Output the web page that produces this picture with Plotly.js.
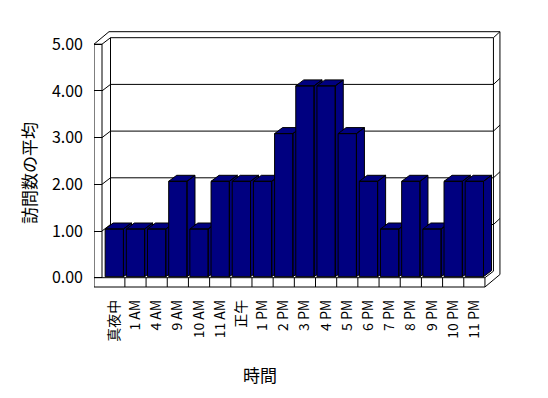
<!DOCTYPE html>
<html>
<head>
<meta charset="utf-8">
<script src="https://cdn.plot.ly/plotly-3.0.1.min.js"></script>
<style>html,body{margin:0;padding:0;background:#fff;}#chart{width:548px;height:398px;}</style>
</head>
<body>
<div id="chart"></div>
<script>
// ---- data ----
const categories = ["真夜中","1 AM","4 AM","9 AM","10 AM","11 AM","正午","1 PM","2 PM","3 PM","4 PM","5 PM","6 PM","7 PM","8 PM","9 PM","10 PM","11 PM"];
const values = [1,1,1,2,1,2,2,2,3,4,4,3,2,1,2,1,2,2];
const yTicks = [0,1,2,3,4,5];
const xTitle = "時間";
const yTitle = "訪問数の平均";

// ---- geometry (pixels -> axis units) ----
const CW = 21.18;        // px per category
const KF = 46.7;         // px per value unit, front plane
const KB = 47.7;         // px per value unit, bar plane
const n = categories.length;
const xr = [(94 - 114.3) / CW, (504 - 114.3) / CW];
const yr = [(277.7 - 292) / KF, (277.7 - 28) / KF];
const y2r = [(276.7 - 292) / KB, (276.7 - 28) / KB];

const yMax = yTicks[yTicks.length - 1];
const xL = xr[0];
const xI = xL + 8 / CW;
const xR = n - 0.5;
const yF = -9.3 / KF;
const D1 = {dx: 8.5 / CW, dy: 6.5 / KF};
const D2 = {dx: 15 / CW, dy: 12.5 / KF};

const shapes = [];
const ln = {color: "black", width: 1};
function path(pts) {
  const d = pts.map((p, i) => (i ? "L" : "M") + p[0] + "," + p[1]).join(" ");
  shapes.push({type: "path", path: d, xref: "x", yref: "y", line: ln, layer: "below"});
}
// left wall
path([[xL, yF], [xL, yMax], [xI, yMax], [xI, 0]]);
// outer outline
path([[xL, yMax], [xL + D2.dx, yMax + D2.dy], [xR + D2.dx, yMax + D2.dy], [xR + D2.dx, yF + D2.dy], [xR, yF], [xL, yF]]);
// inner top edge + right end
path([[xI, yMax], [xI + D1.dx, yMax + D1.dy], [xR + D1.dx, yMax + D1.dy], [xR + D2.dx, yMax + D2.dy]]);
path([[xR + D1.dx, yMax + D1.dy], [xR + D1.dx, D1.dy], [xR, 0], [xR, yF]]);
// back wall left edge
path([[xI + D1.dx, yMax + D1.dy], [xI + D1.dx, D1.dy]]);
// floor front top edge
path([[xL, 0], [xR, 0]]);
// gridlines
yTicks.forEach(v => {
  if (v <= 0 || v >= yMax) return;
  path([[xI, v], [xI + D1.dx, v + D1.dy], [xR + D1.dx, v + D1.dy], [xR + D2.dx, v + D2.dy]]);
});
// floor category separators
for (let k = 1; k < n; k++) path([[k - 0.5, yF], [k - 0.5, 0]]);

// ---- bars as 3D prisms ----
const w = 18.3 / CW, bdx = 8 / CW, bdy = 6 / KB;
const traces = [];
values.forEach((v, i) => {
  const x0 = i - w / 2, x1 = i + w / 2;
  const xs = [x1, x1, x1 + bdx, x1 + bdx, x1, null,
              x0, x0 + bdx, x1 + bdx, x1, x0, null,
              x0, x0, x1, x1, x0];
  const ys = [0, v, v + bdy, bdy, 0, null,
              v, v + bdy, v + bdy, v, v, null,
              0, v, v, 0, 0];
  traces.push({type: "scatter", mode: "lines", x: xs, y: ys, xaxis: "x", yaxis: "y2",
    fill: "toself", fillcolor: "#000080", line: {color: "black", width: 1},
    connectgaps: false, hoverinfo: "skip", showlegend: false});
});

const fontCJK = "Noto Sans CJK JP, sans-serif";
const layout = {
  width: 548, height: 398, autosize: false,
  margin: {l: 94, r: 44, t: 28, b: 106, pad: 0},
  paper_bgcolor: "#fff", plot_bgcolor: "rgba(0,0,0,0)",
  showlegend: false,
  xaxis: {range: xr, type: "linear", showgrid: false, zeroline: false, showline: false,
    tickvals: categories.map((c, i) => i), ticktext: categories, tickangle: -90,
    ticks: "", ticklabelstandoff: 4, tickfont: {family: fontCJK, size: 14, color: "black"}},
  yaxis: {range: yr, showgrid: false, zeroline: false, showline: false,
    tickvals: yTicks, ticktext: yTicks.map(v => v.toFixed(2)),
    ticks: "inside", ticklen: 8, tickwidth: 1, tickcolor: "black",
    ticklabelstandoff: 10, tickfont: {family: fontCJK, size: 16, color: "black"}},
  yaxis2: {range: y2r, overlaying: "y", visible: false, showgrid: false, zeroline: false},
  shapes: shapes,
  annotations: [
    {text: xTitle, xref: "paper", yref: "paper", x: (260 - 94) / 410, y: (292 - 374) / 264,
     xanchor: "center", yanchor: "middle", showarrow: false, font: {family: fontCJK, size: 17, color: "black"}},
    {text: yTitle, xref: "paper", yref: "paper", x: (28 - 94) / 410, y: (292 - 173) / 264,
     xanchor: "center", yanchor: "middle", textangle: -90, showarrow: false, font: {family: fontCJK, size: 17, color: "black"}}
  ]
};
Plotly.newPlot("chart", traces, layout, {staticPlot: true, displayModeBar: false});
</script>
</body>
</html>
